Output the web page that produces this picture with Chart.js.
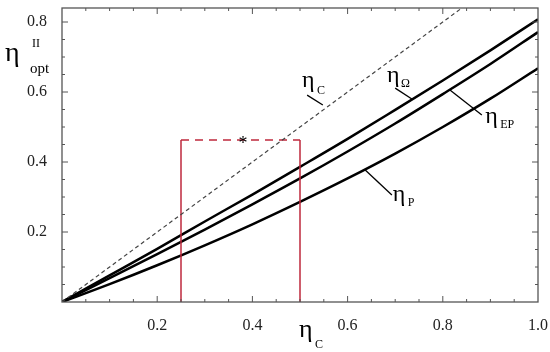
<!DOCTYPE html>
<html>
<head>
<meta charset="utf-8">
<script src="https://cdn.jsdelivr.net/npm/chart.js@4"></script>
<style>
  html, body { margin: 0; padding: 0; background: #fff; }
  #wrap { width: 550px; height: 352px; }
</style>
</head>
<body>
<div id="wrap"><canvas id="myChart" width="550" height="352"></canvas></div>
<script>
// eta_C values along the x axis
const etaC = [0, 0.1, 0.2, 0.3, 0.4, 0.5, 0.6, 0.7, 0.8, 0.9, 1.0];
// curves
const etaOmega = [0, 0.076, 0.152, 0.230, 0.307, 0.386, 0.466, 0.549, 0.633, 0.719, 0.808];
const etaEP    = [0, 0.068, 0.137, 0.207, 0.279, 0.353, 0.430, 0.510, 0.594, 0.680, 0.771];
const etaP     = [0, 0.051, 0.105, 0.162, 0.222, 0.286, 0.353, 0.424, 0.500, 0.581, 0.668];
// Carnot line (dashed)
const carnotX = [0, 1];
const carnotY = [0, 1];
// red box corners
const boxX = [0.25, 0.25, 0.5, 0.5];
const boxY = [0, 0.463, 0.463, 0];
// tick labels
const xTicks = [0.2, 0.4, 0.6, 0.8, 1.0];
const yTicks = [0.2, 0.4, 0.6, 0.8];

const serif = '"Liberation Serif", "DejaVu Serif", serif';

function pts(xs, ys) {
    return xs.map((x, i) => ({x: x, y: ys[i]}));
}

// no automatic edge padding from the tick labels
function noPad(s) {
    s.paddingTop = 0; s.paddingBottom = 0; s.paddingLeft = 0; s.paddingRight = 0;
}

// curve labels with leader lines, in data units
const curveLabels = [
    {main: 'η', sub: 'C',  at: [0.504, 0.614], subDx: 15, subDy: 7,  line: [[0.515, 0.591], [0.548, 0.563]]},
    {main: 'η', sub: 'Ω',  at: [0.683, 0.629], subDx: 14, subDy: 5,  line: [[0.700, 0.611], [0.735, 0.580]]},
    {main: 'η', sub: 'EP', at: [0.889, 0.511], subDx: 15, subDy: 5,  line: [[0.815, 0.606], [0.882, 0.534]]},
    {main: 'η', sub: 'P',  at: [0.695, 0.289], subDx: 15, subDy: 5,  line: [[0.637, 0.377], [0.693, 0.306]]}
];

const framePlugin = {
    id: 'frame',
    afterDraw(chart) {
        const {ctx, chartArea: a, scales: {x, y}} = chart;
        ctx.save();
        // frame
        ctx.strokeStyle = '#555';
        ctx.lineWidth = 1.3;
        ctx.strokeRect(a.left, a.top, a.right - a.left, a.bottom - a.top);
        // inward ticks on all four sides
        ctx.lineWidth = 1;
        ctx.beginPath();
        for (let i = 1; i < 20; i++) {
            const px = x.getPixelForValue(i * 0.05);
            const len = (i % 4 === 0) ? 6 : 3;
            ctx.moveTo(px, a.bottom); ctx.lineTo(px, a.bottom - len);
            ctx.moveTo(px, a.top); ctx.lineTo(px, a.top + len);
        }
        for (let i = 1; i * 0.05 < 0.84; i++) {
            const py = y.getPixelForValue(i * 0.05);
            const len = (i % 4 === 0) ? 6 : 3;
            ctx.moveTo(a.left, py); ctx.lineTo(a.left + len, py);
            ctx.moveTo(a.right, py); ctx.lineTo(a.right - len, py);
        }
        ctx.stroke();

        // leaders and labels
        ctx.strokeStyle = '#000';
        ctx.fillStyle = '#000';
        ctx.lineWidth = 1.3;
        curveLabels.forEach(l => {
            ctx.beginPath();
            ctx.moveTo(x.getPixelForValue(l.line[0][0]), y.getPixelForValue(l.line[0][1]));
            ctx.lineTo(x.getPixelForValue(l.line[1][0]), y.getPixelForValue(l.line[1][1]));
            ctx.stroke();
            const lx = x.getPixelForValue(l.at[0]);
            const ly = y.getPixelForValue(l.at[1]);
            ctx.textAlign = 'left';
            ctx.textBaseline = 'alphabetic';
            ctx.font = '24px ' + serif;
            ctx.fillText(l.main, lx, ly);
            ctx.font = '12px ' + serif;
            ctx.fillText(l.sub, lx + l.subDx, ly + l.subDy);
        });

        // asterisk on the red box
        ctx.font = '18px ' + serif;
        ctx.textAlign = 'center';
        ctx.textBaseline = 'middle';
        ctx.fillText('*', x.getPixelForValue(0.38), y.getPixelForValue(0.463) + 4);

        // axis titles
        ctx.textAlign = 'left';
        ctx.textBaseline = 'alphabetic';
        ctx.font = '28px ' + serif;
        ctx.fillText('η', 5, 61);
        ctx.font = '12px ' + serif;
        ctx.fillText('II', 32, 47);
        ctx.font = '15px ' + serif;
        ctx.fillText('opt', 30, 73);

        ctx.font = '26px ' + serif;
        ctx.fillText('η', 299, 337);
        ctx.font = '12px ' + serif;
        ctx.fillText('C', 315, 348);
        ctx.restore();
    }
};

const ctx = document.getElementById('myChart');
const myChart = new Chart(ctx, {
    type: 'line',
    data: {
        datasets: [
            {
                label: 'etaC',
                data: pts(carnotX, carnotY),
                borderColor: '#444',
                borderWidth: 1.2,
                borderDash: [4, 3],
                pointRadius: 0
            },
            {
                label: 'box',
                data: pts(boxX, boxY),
                borderColor: 'rgb(190, 40, 60)',
                borderWidth: 1.5,
                pointRadius: 0,
                segment: {
                    borderDash: c => c.p0DataIndex === 1 ? [8, 6] : undefined
                }
            },
            {
                label: 'etaOmega',
                data: pts(etaC, etaOmega),
                borderColor: '#000',
                borderWidth: 2.5,
                pointRadius: 0,
                cubicInterpolationMode: 'monotone'
            },
            {
                label: 'etaEP',
                data: pts(etaC, etaEP),
                borderColor: '#000',
                borderWidth: 2.5,
                pointRadius: 0,
                cubicInterpolationMode: 'monotone'
            },
            {
                label: 'etaP',
                data: pts(etaC, etaP),
                borderColor: '#000',
                borderWidth: 2.5,
                pointRadius: 0,
                cubicInterpolationMode: 'monotone'
            }
        ]
    },
    options: {
        responsive: false,
        animation: false,
        layout: {padding: {top: 8, right: 12, left: 0, bottom: 0}},
        plugins: {
            legend: {display: false},
            tooltip: {enabled: false}
        },
        scales: {
            x: {
                type: 'linear',
                min: 0,
                max: 1,
                afterBuildTicks: s => { s.ticks = xTicks.map(v => ({value: v})); },
                afterFit: s => { s.height = 50; noPad(s); },
                ticks: {
                    padding: 6,
                    color: '#222',
                    font: {family: serif, size: 16},
                    callback: v => Number(v).toFixed(1)
                },
                grid: {display: false},
                border: {display: false}
            },
            y: {
                type: 'linear',
                min: 0,
                max: 0.84,
                afterBuildTicks: s => { s.ticks = yTicks.map(v => ({value: v})); },
                afterFit: s => { s.width = 62; noPad(s); },
                ticks: {
                    padding: 7,
                    color: '#222',
                    font: {family: serif, size: 16},
                    callback: v => Number(v).toFixed(1)
                },
                grid: {display: false},
                border: {display: false}
            }
        }
    },
    plugins: [framePlugin]
});
</script>
</body>
</html>
